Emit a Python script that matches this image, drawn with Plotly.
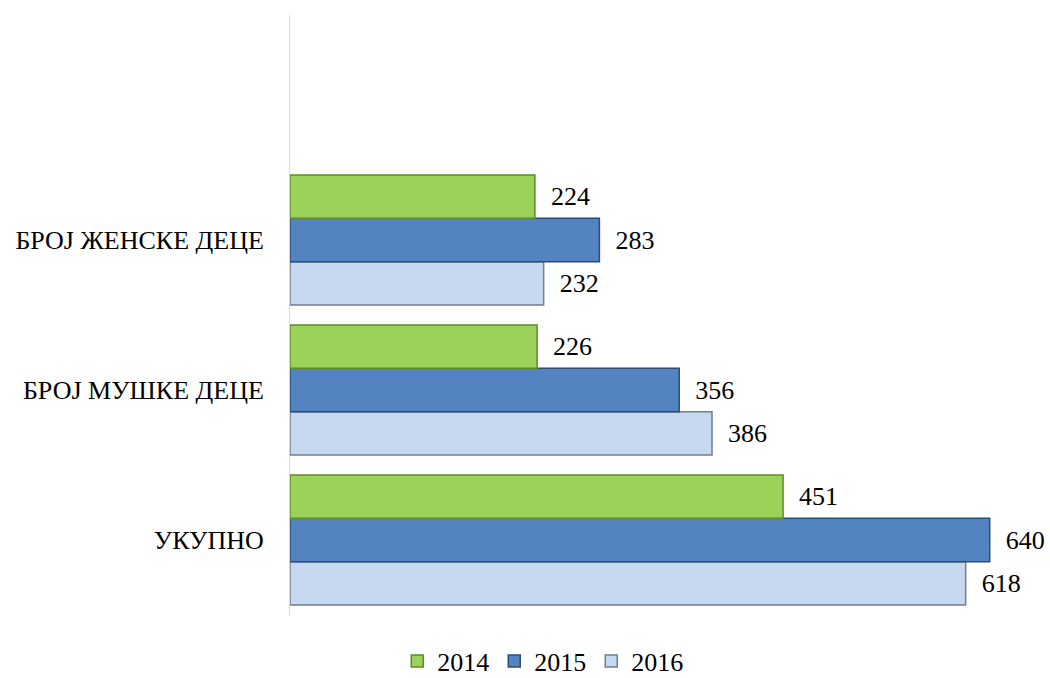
import plotly.graph_objects as go

categories = ["УКУПНО", "БРОЈ МУШКЕ ДЕЦЕ", "БРОЈ ЖЕНСКЕ ДЕЦЕ"]
years = ["2014", "2015", "2016"]
values_2014 = [451, 226, 224]
values_2015 = [640, 356, 283]
values_2016 = [618, 386, 232]

series = {"2014": values_2014, "2015": values_2015, "2016": values_2016}
fills = {"2014": "#9BD35A", "2015": "#5383C0", "2016": "#C6D9F0"}
edges = {"2014": "#5E8A2A", "2015": "#2C4D74", "2016": "#6F7F92"}

fig = go.Figure()
for yr in reversed(years):
    fig.add_trace(go.Bar(
        y=categories, x=series[yr], name=yr, orientation="h",
        marker=dict(color=fills[yr], line=dict(color=edges[yr], width=1.5)),
        text=series[yr], texttemplate="  %{x}", textposition="outside",
        textfont=dict(family="Liberation Serif", size=26, color="#000000"),
        cliponaxis=False,
    ))

fig.update_layout(
    width=1050, height=678,
    margin=dict(l=290, r=10, t=15, b=63, autoexpand=False),
    paper_bgcolor="white", plot_bgcolor="white",
    barmode="group", bargap=0.133, bargroupgap=0,
    font=dict(family="Liberation Serif", size=26, color="#000000"),
    showlegend=True,
    legend=dict(orientation="h", traceorder="reversed",
                x=0.337, xanchor="center",
                y=-0.077, yanchor="middle",
                font=dict(family="Liberation Serif", size=26),
                itemwidth=30),
    xaxis=dict(range=[0, 686], showgrid=False, zeroline=False,
               showticklabels=False, showline=False),
    yaxis=dict(type="category", categoryorder="array", categoryarray=categories,
               range=[-0.5, 3.5], showgrid=False, zeroline=False,
               showline=True, linecolor="#D9D9D9", linewidth=1,
               ticks="", ticklabelstandoff=20,
               tickfont=dict(family="Liberation Serif", size=26)),
)

fig.write_html(
    "out.html",
    config={"displayModeBar": False},
    post_script="document.body.style.margin='0';document.body.style.overflow='hidden';",
)
